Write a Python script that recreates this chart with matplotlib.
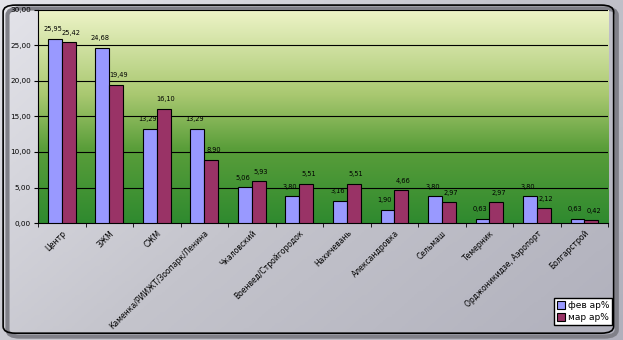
import numpy as np
import matplotlib
matplotlib.use("Agg")
import matplotlib.pyplot as plt
from matplotlib.colors import LinearSegmentedColormap
from matplotlib.patches import FancyBboxPatch

categories = ["Центр", "ЗЖМ", "СЖМ", "Каменка/РИИЖТ/Зоопарк/Ленина", "Чкаловский",
              "Военвед/Стройгородок", "Нахичевань", "Александровка", "Сельмаш",
              "Темерник", "Орджоникидзе, Аэропорт", "Болгарстрой"]
feb = [25.95, 24.68, 13.29, 13.29, 5.06, 3.80, 3.16, 1.90, 3.80, 0.63, 3.80, 0.63]
mar = [25.42, 19.49, 16.10, 8.90, 5.93, 5.51, 5.51, 4.66, 2.97, 2.97, 2.12, 0.42]
yticks = [0, 5, 10, 15, 20, 25, 30]

fig = plt.figure(figsize=(6.23, 3.40), dpi=100)

# background of the whole chart: grey diagonal gradient
bg = fig.add_axes([0, 0, 1, 1], zorder=-10)
bg.axis("off")
gx, gy = np.meshgrid(np.linspace(0, 1, 200), np.linspace(0, 1, 120))
grad = 0.6 * gx + 0.4 * gy
bg_cmap = LinearSegmentedColormap.from_list("bg", ["#e4e4ea", "#c4c4cc", "#b0b0bc"])
bg.imshow(grad, cmap=bg_cmap, extent=[0, 1, 0, 1], aspect="auto", origin="upper")
bg.set_xlim(0, 1)
bg.set_ylim(0, 1)
# shadow + border
bg.add_patch(FancyBboxPatch((0.012, 0.01), 0.978, 0.965, boxstyle="round,pad=0,rounding_size=0.02",
                            fc="none", ec="#808088", lw=3, transform=bg.transAxes))
bg.add_patch(FancyBboxPatch((0.005, 0.02), 0.98, 0.965, boxstyle="round,pad=0,rounding_size=0.02",
                            fc="none", ec="black", lw=1.2, transform=bg.transAxes))

ax = fig.add_axes([0.061, 0.344, 0.915, 0.627])

# plot area gradient
plot_cmap = LinearSegmentedColormap.from_list(
    "plot", [(0, "#2f8a2f"), (0.35, "#5a9e3a"), (0.6, "#a9c870"), (1, "#eef4c8")])
ax.imshow(np.linspace(0, 1, 256).reshape(-1, 1), cmap=plot_cmap, origin="lower",
          extent=[0, 1, 0, 1], aspect="auto", transform=ax.transAxes, zorder=0)

x = np.arange(len(categories))
w = 0.29
b1 = ax.bar(x - w / 2, feb, w, color="#9999ff", edgecolor="black", lw=0.8,
            label="фев ар%", zorder=3)
b2 = ax.bar(x + w / 2, mar, w, color="#993366", edgecolor="black", lw=0.8,
            label="мар ар%", zorder=3)

def fmt(v):
    return f"{v:.2f}".replace(".", ",")

for xi, v in zip(x, feb):
    ax.text(xi - w / 2 - 0.05, v + 0.9, fmt(v), ha="center", va="bottom", fontsize=4.8, zorder=4)
for xi, v in zip(x, mar):
    ax.text(xi + w / 2 + 0.05, v + 0.9, fmt(v), ha="center", va="bottom", fontsize=4.8, zorder=4)

ax.set_xlim(-0.5, len(categories) - 0.5)
ax.set_ylim(0, 30)
ax.set_yticks(yticks)
ax.set_yticklabels([fmt(t) for t in yticks], fontsize=5.2)
for t in yticks[1:]:
    ax.axhline(t, color="black", lw=0.8, zorder=1)

ax.set_xticks(np.arange(len(categories) + 1) - 0.5, minor=True)
ax.set_xticks(x)
ax.set_xticklabels(categories, rotation=45, ha="right", rotation_mode="anchor", fontsize=5.5)
ax.tick_params(axis="x", which="major", length=0, pad=4)
ax.tick_params(axis="x", which="minor", length=3, direction="out")
ax.tick_params(axis="y", length=3, direction="out", pad=2)
for s in ["top", "right"]:
    ax.spines[s].set_visible(False)
ax.spines["left"].set_linewidth(0.8)
ax.spines["bottom"].set_linewidth(0.8)

fig.legend(handles=[b1, b2], loc="lower right", bbox_to_anchor=(0.99, 0.03),
           fontsize=6.5, frameon=True, fancybox=False, edgecolor="black",
           handlelength=0.9, handleheight=0.9, handletextpad=0.3, borderpad=0.35,
           labelspacing=0.35, framealpha=1)

fig.savefig("out.png", dpi=100)
